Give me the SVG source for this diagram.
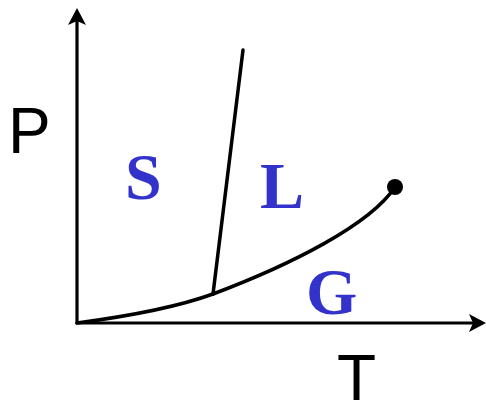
<svg xmlns="http://www.w3.org/2000/svg" width="486" height="400" viewBox="0 0 486 400">
<style>
.ax{stroke:#000;stroke-width:3.2;fill:none}
.ln{stroke:#000;stroke-width:3.5;fill:none;stroke-linecap:round}
.ph{font-family:"Liberation Serif",serif;font-weight:bold;font-size:66px;fill:#3333CC}
.lb{font-family:"Liberation Sans",sans-serif;font-size:64px;fill:#000}
</style>
<rect width="486" height="400" fill="#fff"/>
<g id="connectors">
<line class="ax" x1="77" y1="324" x2="77" y2="18"/>
<polygon points="77,8 86,25 77,21 68,25" fill="#000"/>
<line class="ax" x1="76" y1="323" x2="476" y2="323"/>
<polygon points="486,323 469,332 473,323 469,314" fill="#000"/>
<path class="ln" d="M77,323 C130,316 180,306 213,294"/>
<path class="ln" d="M213,294 L243,50"/>
<path class="ln" d="M213,294 C290,265 370,225 395,187"/>
<circle cx="395" cy="187" r="8" fill="#000"/>
</g>
<g id="axis-P"><text class="lb" x="8" y="153">P</text></g>
<g id="axis-T"><text class="lb" x="337" y="400">T</text></g>
<g id="solid"><text class="ph" x="125" y="199">S</text></g>
<g id="liquid"><text class="ph" x="260" y="208">L</text></g>
<g id="gas"><text class="ph" x="306" y="314">G</text></g>
</svg>
